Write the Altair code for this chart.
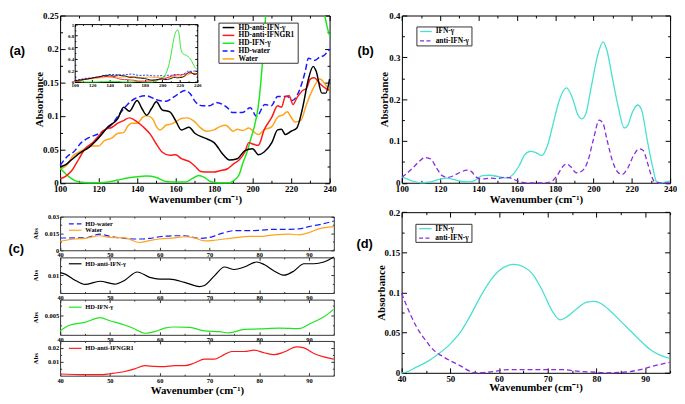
import json
import altair as alt
import pandas as pd

# ====================== DATA ======================
# (a) main panel + inset, wavenumber 100-240 cm-1
a_anti_ifng_x = [100, 103, 105, 110, 115, 120, 125, 130, 133, 136, 140, 142.5, 145, 147.5, 150, 153, 157, 160, 163, 167,
                 170, 175, 180, 185, 188, 192, 196, 200, 203, 206, 210, 213, 215, 217, 220, 223, 226, 229, 231.5, 233,
                 236, 238, 240]
a_anti_ifng_y = [.024, .027, .032, .044, .053, .067, .084, .096, .113, .107, .123, .111, .101, .111, .121, .109, .106, .093, .079, .083,
                 .074, .067, .060, .041, .034, .036, .048, .051, .042, .046, .060, .079, .080, .072, .077, .082, .112, .155, .174, .167,
                 .134, .134, .155]
a_gr1_x = [100, 103, 106, 110, 113, 117, 120, 123, 127, 130, 133, 136, 140, 143, 147, 150, 153, 157, 160, 163,
           167, 170, 173, 177, 180, 183, 187, 190, 193, 196, 198, 200, 203, 206, 210, 213, 215, 217, 219, 221,
           223, 226, 228, 230, 232, 235, 238, 240]
a_gr1_y = [.006, .010, .018, .037, .051, .060, .070, .079, .083, .089, .093, .097, .091, .084, .072, .058, .046, .041, .042, .036,
           .032, .025, .017, .016, .016, .018, .021, .028, .034, .046, .060, .058, .056, .079, .098, .115, .113, .129, .130, .117,
           .127, .138, .141, .155, .157, .148, .141, .138]
a_ifng_x = [100, 105, 110, 115, 120, 125, 130, 135, 140, 145, 150, 155, 160, 165, 169, 172, 175, 178, 182, 188,
            190, 193, 195, 197, 199, 201, 203, 205, 206.8, 208, 210, 212, 214, 216, 217.5, 219, 221, 223, 225.5, 228,
            230, 232, 234, 236, 237.5, 239, 240]
a_ifng_y = [.022, .008, .001, 0, 0, .001, .004, .007, .009, .010, .008, .002, .001, .001, .007, .011, .008, .002, 0, 0,
            .003, .012, .030, .045, .065, .085, .115, .175, .250, .32, .47, .65, .80, .88, .90, .85, .60, .50, .47, .46,
            .43, .40, .35, .29, .25, .23, .22]
a_water_hd_x = [100, 104, 107, 111, 114.6, 120.5, 127, 132, 135, 139, 145, 150, 155, 160, 165, 167.6, 170, 174, 177.7, 181,
                184.5, 187, 189.5, 194.6, 198.8, 202.1, 206.4, 209.7, 213, 218.1, 220.6, 224, 227.4, 229, 232.4, 234.9, 237, 240]
a_water_hd_y = [.026, .040, .046, .060, .067, .074, .088, .107, .117, .126, .130, .124, .122, .130, .138, .133, .122, .115, .115, .120,
                .117, .112, .105, .105, .112, .099, .117, .115, .129, .129, .123, .136, .167, .186, .183, .188, .190, .200]
a_water_x = [100, 103, 107, 110, 113, 117, 120, 123, 127, 130, 133, 135, 137, 140, 143, 145, 148, 150, 152, 155,
             158, 160, 163, 166, 170, 173, 176, 180, 183, 186, 190, 192, 195, 198, 200, 203, 206, 210, 213, 216,
             218, 220, 222, 225, 228, 231, 235, 238, 240]
a_water_y = [.020, .025, .041, .046, .051, .055, .055, .063, .067, .074, .075, .084, .089, .089, .098, .100, .096, .084, .079, .086,
             .088, .091, .096, .097, .091, .082, .077, .079, .084, .086, .077, .080, .078, .082, .078, .072, .079, .084, .098, .102,
             .106, .098, .091, .093, .117, .138, .155, .146, .138]

# (b) 100-240 cm-1
b_ifng_x = [100, 105, 110, 115, 120, 123, 127, 130, 135, 138, 142, 146, 150, 155, 158, 161, 164, 167, 170, 173,
            176, 179, 182, 186, 189, 192, 194, 196, 199, 202, 205, 207, 210, 213, 216, 218, 220, 223, 225, 228,
            231, 233, 235, 238, 240]
b_ifng_y = [.014, .005, 0, .002, .009, .011, .008, .004, .002, .005, .017, .018, .015, .011, .020, .039, .066, .075, .072, .065,
            .089, .142, .195, .227, .203, .161, .153, .165, .233, .301, .337, .317, .248, .180, .131, .138, .165, .186, .176, .104,
            .036, .002, 0, .002, .004]
b_anti_x = [100, 103, 106, 109, 112, 115, 118, 121, 124, 127, 130, 134, 136, 139, 142, 146, 150, 154, 157, 160,
            165, 170, 175, 178, 181, 184, 186, 188, 191, 194, 197, 200, 203, 205, 207, 210, 213, 215, 218, 221,
            224, 226, 228, 230, 232, 235, 240]
b_anti_y = [.013, .024, .037, .051, .060, .057, .036, .017, .013, .017, .024, .030, .028, .013, .009, .011, .010, .013, .011, .005,
            0, 0, 0, .003, .017, .039, .045, .039, .024, .028, .051, .104, .150, .142, .104, .051, .024, .020, .036, .066,
            .081, .077, .051, .020, .002, 0, 0]

# (c) 40-95 cm-1, four stacked panels
c_water_hd_x = [40, 45, 48, 50, 53, 56, 58, 60, 63, 65, 68, 70, 72, 75, 78, 80, 83, 86, 88, 90, 93, 95]
c_water_hd_y = [.0109, .011, .0143, .0123, .0106, .010, .0106, .012, .0129, .0129, .0106, .0114, .0143, .0174, .0174,
                .0177, .0186, .0186, .019, .021, .0237, .026]
c_water_x = [40, 43, 45, 48, 50, 53, 56, 58, 60, 63, 65, 67, 69, 71, 73, 75, 78, 80, 83, 86, 88, 90, 92, 95]
c_water_y = [.008, .010, .0106, .0129, .0114, .011, .0069, .0086, .010, .011, .012, .011, .0083, .0089, .010, .011,
             .0123, .0123, .0137, .0143, .0137, .0157, .019, .021]
c_anti_ifng_x = [40, 41, 43, 45, 48, 51, 53, 55.5, 58, 60, 62, 65, 68, 69, 71, 73, 75, 77, 79.5, 81, 83, 85, 87, 89, 91, 93, 95]
c_anti_ifng_y = [.0107, .0103, .0086, .0074, .0083, .0075, .0086, .0109, .0094, .0089, .0089, .008, .0068, .0071, .0098,
                 .0123, .0116, .0123, .0137, .013, .0112, .010, .0112, .0132, .0132, .0137, .0151]
c_ifng_x = [40, 42, 45, 48, 50, 53, 55, 57, 59, 61, 63, 66, 69, 72, 74, 77, 80, 84, 88, 90, 93, 95]
c_ifng_y = [.001, .0025, .0032, .0044, .0036, .0025, .0015, .0004, .0008, .0017, .002, .0019, .001, .0008, .0005, .0014,
            .0015, .0017, .0016, .0027, .0046, .0065]
c_gr1_x = [40, 45, 48, 50, 53, 55, 57, 59, 61, 63, 65, 67, 69, 71, 72.5, 74.5, 77, 79, 81, 83, 85, 87.5, 89, 91, 93, 95]
c_gr1_y = [.0012, .0007, .0007, .0014, .003, .0049, .0072, .0067, .0065, .0072, .0072, .0091, .0119, .0119, .0142, .0174,
           .0174, .0184, .0165, .0151, .017, .0207, .020, .016, .0135, .0119]

# (d) 40-95 cm-1
d_ifng_x = [40, 41, 43, 45, 47, 50, 52, 54, 56, 58, 60, 62, 63, 65, 67, 69, 71, 72.5, 74, 76, 78, 79.5, 81, 83, 85, 87, 89, 91, 93, 95]
d_ifng_y = [0, .001, .007, .013, .021, .036, .050, .070, .093, .113, .127, .134, .135, .132, .122, .101, .076, .066, .070, .080,
            .088, .089, .086, .076, .064, .052, .040, .029, .022, .018]
d_anti_x = [40, 41, 42, 43, 44, 45, 46, 47, 48, 50, 52, 54, 55, 58, 62, 66, 70, 73, 76, 79, 82, 86, 89, 92, 95]
d_anti_y = [.099, .084, .070, .058, .048, .040, .032, .026, .022, .015, .009, .002, 0, .001, .004, .004, .004, .004, .002, .001,
            0, .001, .004, .009, .013]

# labels
names_a = ["HD-anti-IFN-\u03b3", "HD-anti-IFNGR1", "HD-IFN-\u03b3", "HD-water", "Water"]
names_b = ["IFN-\u03b3", "anti-IFN-\u03b3"]
x_title = "Wavenumber (cm\u207b\u00b9)"
y_title = "Absorbance"

# ====================== STYLE / LAYOUT ======================
W, H = 668, 372
SERIF = "Liberation Serif"
SANS = "Liberation Sans"
FRAME = "#000000"
BLACK, RED, GREEN, BLUE, ORANGE = "#000000", "#ff1a1a", "#1ee61e", "#1a1aff", "#ffa31a"
CYAN, PURPLE = "#48e0d0", "#8a2be2"

BOX_A = (49.8, 322.9, 5.0, 174.5)
BOX_IN = (64.6, 188.8, 13.7, 72.4)
BOX_B = (396.2, 668.0, 5.0, 174.5)
BOX_C = [(49.8, 327.2, 208.7, 242.9), (49.8, 327.2, 250.1, 286.2),
         (49.8, 327.2, 292.9, 328.6), (49.8, 327.2, 334.8, 370.0)]
BOX_D = (395.9, 667.5, 204.3, 367.1)

ONE = pd.DataFrame({"k": [0]})


def df(xs, ys):
    return pd.DataFrame({"x": xs, "y": ys})


def rng(a, b, step):
    n = int(round((b - a) / step))
    return [round(a + i * step, 6) for i in range(n + 1)]


def scales(box, xdom, ydom):
    L, R, T, B = box
    return (alt.Scale(domain=xdom, range=[L, R], nice=False, zero=False),
            alt.Scale(domain=ydom, range=[B, T], nice=False, zero=False))


def lab_axis(orient, offset, values, fs, title, tx, ty, tfs, pad, color):
    kw = dict(orient=orient, offset=offset, values=values, format=".4~f", ticks=False, tickSize=0,
              domain=True, domainColor=color, domainWidth=1, grid=False,
              labelFont=SERIF, labelFontWeight="bold", labelFontSize=fs, labelColor="black",
              labelPadding=pad, labelFlush=False, labelOverlap=False, labelBound=False)
    if title is None:
        kw["title"] = None
    else:
        kw.update(title=title, titleFont=SERIF, titleFontWeight="bold", titleFontSize=tfs,
                  titleColor="black", titleX=tx, titleY=ty, titleAlign="center",
                  titleBaseline="middle", titleAngle=270 if orient == "left" else 0)
    return alt.Axis(**kw)


def tick_axis(orient, offset, values, majors, big, small, domain, color):
    test = "indexof(%s, datum.value) >= 0" % json.dumps(majors)
    return alt.Axis(orient=orient, offset=offset, values=values, labels=False, title=None, grid=False,
                    domain=domain, domainColor=color, domainWidth=1, ticks=True, tickColor=color,
                    tickWidth=1, tickSize={"condition": {"test": test, "value": big}, "value": small})


def panel_axes(data, box, xdom, ydom, xlab, ylab, xall, yall, lfs, big, small,
               xtitle=None, ytitle=None, xty=17, ytx=-21, xtfs=11, ytfs=11, pad=2, color=FRAME):
    L, R, T, B = box
    xs, ys = scales(box, xdom, ydom)
    base = alt.Chart(data).mark_point(opacity=0)
    lab = base.encode(
        x=alt.X("x:Q", scale=xs, axis=lab_axis("bottom", B - H, xlab, lfs, xtitle, (L + R) / 2, xty, xtfs, pad, color)),
        y=alt.Y("y:Q", scale=ys, axis=lab_axis("left", -L, ylab, lfs, ytitle, ytx, (T + B) / 2, ytfs, pad, color)))
    fr1 = base.encode(
        x=alt.X("x:Q", scale=xs, axis=tick_axis("bottom", T - H, xall, xlab, big, small, True, color)),
        y=alt.Y("y:Q", scale=ys, axis=tick_axis("left", -R, yall, ylab, big, small, True, color)))
    fr2 = base.encode(
        x=alt.X("x:Q", scale=xs, axis=tick_axis("top", -B, xall, xlab, big, small, False, color)),
        y=alt.Y("y:Q", scale=ys, axis=tick_axis("right", L - W, yall, ylab, big, small, False, color)))
    return [lab, fr1, fr2], xs, ys


def line(data, xs, ys, color, width, dash=None, detail=None):
    kw = dict(color=color, strokeWidth=width, interpolate="monotone")
    if dash:
        kw["strokeDash"] = dash
    enc = dict(x=alt.X("x:Q", scale=xs, axis=None), y=alt.Y("y:Q", scale=ys, axis=None))
    if detail:
        enc["detail"] = detail
    return alt.Chart(data).mark_line(**kw).encode(**enc)


def seg(x1, x2, y, color, width, dash=None):
    kw = dict(color=color, strokeWidth=width)
    if dash:
        kw["strokeDash"] = dash
    return alt.Chart(ONE).mark_rule(**kw).encode(x=alt.value(x1), x2=alt.value(x2), y=alt.value(y), y2=alt.value(y))


def text(s, x, y, size, font=SERIF, align="left"):
    return alt.Chart(ONE).mark_text(text=s, font=font, fontSize=size, fontWeight="bold", align=align,
                                    baseline="middle", color="black").encode(x=alt.value(x), y=alt.value(y))


def box(x1, x2, y1, y2):
    return alt.Chart(ONE).mark_rect(fill="white", stroke="#333333", strokeWidth=1).encode(
        x=alt.value(x1), x2=alt.value(x2), y=alt.value(y1), y2=alt.value(y2))


layers = []

# ---------------- panel (a) ----------------
ax, xsA, ysA = panel_axes(df(a_water_x, a_water_y), BOX_A, [100, 240], [0, 0.25],
                          rng(100, 240, 20), rng(0, 0.25, 0.05), rng(100, 240, 10), rng(0, 0.25, 0.025),
                          9, 5, 2.5, xtitle=x_title, ytitle=y_title, xty=17.0, ytx=-20.7, pad=2)
layers += ax
g = df(a_ifng_x, a_ifng_y)
g = g[g["y"] <= 0.25 + 1e-9].copy()
g["seg"] = (g.index.to_series().diff() != 1).cumsum()
layers += [
    line(df(a_water_x, a_water_y), xsA, ysA, ORANGE, 1.5),
    line(df(a_water_hd_x, a_water_hd_y), xsA, ysA, BLUE, 1.5, [6, 3]),
    line(g, xsA, ysA, GREEN, 1.5, detail="seg:N"),
    line(df(a_gr1_x, a_gr1_y), xsA, ysA, RED, 1.5),
    line(df(a_anti_ifng_x, a_anti_ifng_y), xsA, ysA, BLACK, 1.5),
]
# inset
ax, xsI, ysI = panel_axes(df(a_water_x, a_water_y), BOX_IN, [100, 240], [0, 1],
                          rng(100, 240, 20), rng(0, 1, 0.2), rng(100, 240, 10), rng(0, 1, 0.1),
                          5, 2.5, 1.2, pad=1)
layers += ax
layers += [
    line(df(a_water_x, a_water_y), xsI, ysI, ORANGE, 0.9),
    line(df(a_water_hd_x, a_water_hd_y), xsI, ysI, BLUE, 0.9, [2, 1.5]),
    line(df(a_ifng_x, a_ifng_y), xsI, ysI, GREEN, 0.9),
    line(df(a_gr1_x, a_gr1_y), xsI, ysI, RED, 0.9),
    line(df(a_anti_ifng_x, a_anti_ifng_y), xsI, ysI, BLACK, 0.9),
]
# legend (a)
layers.append(box(210.8, 291.1, 12.7, 53.4))
leg_a = [(BLACK, None), (RED, None), (GREEN, None), (BLUE, [5, 3]), (ORANGE, None)]
for i, (nm, (c, d)) in enumerate(zip(names_a, leg_a)):
    yy = 17.2 + i * 7.95
    layers.append(seg(214.5, 226.3, yy, c, 1.5, d))
    layers.append(text(nm, 230.5, yy, 7.5))
layers.append(text("(a)", 6.4, 40.6, 13, font=SANS, align="center"))

# ---------------- panel (b) ----------------
ax, xsB, ysB = panel_axes(df(b_ifng_x, b_ifng_y), BOX_B, [100, 240], [0, 0.4],
                          rng(100, 240, 20), rng(0, 0.4, 0.1), rng(100, 240, 10), rng(0, 0.4, 0.05),
                          9, 5, 2.5, xtitle=x_title, ytitle=y_title, xty=17.0, ytx=-17.7, pad=2)
layers += ax
layers += [
    line(df(b_ifng_x, b_ifng_y), xsB, ysB, CYAN, 1.3),
    line(df(b_anti_x, b_anti_y), xsB, ysB, PURPLE, 1.3, [5, 3]),
]
layers.append(box(411.4, 467.2, 16.6, 35.8))
layers.append(seg(414.6, 426.4, 21.2, CYAN, 1.3))
layers.append(text(names_b[0], 430.4, 21.2, 7.5))
layers.append(seg(414.6, 426.4, 30.6, PURPLE, 1.3, [4, 2.5]))
layers.append(text(names_b[1], 430.4, 30.6, 7.5))
layers.append(text("(b)", 359.4, 40.6, 13, font=SANS, align="center"))

# ---------------- panel (c) ----------------
c_specs = [
    ([0, 0.03], [0, 0.015, 0.03], rng(0, 0.03, 0.0075),
     [(c_water_hd_x, c_water_hd_y, BLUE, [6, 3]), (c_water_x, c_water_y, ORANGE, None)],
     [("HD-water", BLUE, [5, 3], 216.2), ("Water", ORANGE, None, 222.6)]),
    ([0.005, 0.015], [0.01], [0.0075, 0.01, 0.0125],
     [(c_anti_ifng_x, c_anti_ifng_y, BLACK, None)],
     [(names_a[0], BLACK, None, 256.6)]),
    ([0, 0.009], [0.005], [0.0025, 0.005, 0.0075],
     [(c_ifng_x, c_ifng_y, GREEN, None)],
     [(names_a[2], GREEN, None, 300.6)]),
    ([0, 0.025], [0.01, 0.02], [0.005, 0.01, 0.015, 0.02],
     [(c_gr1_x, c_gr1_y, RED, None)],
     [(names_a[1], RED, None, 342.3)]),
]
for i, (ydom, ylab, yall, series, legs) in enumerate(c_specs):
    last = i == 3
    ax, xsC, ysC = panel_axes(df(series[0][0], series[0][1]), BOX_C[i], [40, 95], ydom,
                              rng(40, 90, 10), ylab, rng(40, 95, 5), yall, 6.5, 3, 1.5,
                              xtitle=x_title if last else None, ytitle="Abs", xty=15, ytx=-24.6,
                              xtfs=11, ytfs=7, pad=1.5, color="#333333")
    layers += ax
    for xs_, ys_, c, d in series:
        layers.append(line(df(xs_, ys_), xsC, ysC, c, 1.2, d))
    for nm, c, d, yy in legs:
        layers.append(seg(58.7, 71.5, yy, c, 1.2, d))
        layers.append(text(nm, 75.4, yy, 6.5))
layers.append(text("(c)", 5.4, 241.9, 13, font=SANS, align="center"))

# ---------------- panel (d) ----------------
ax, xsD, ysD = panel_axes(df(d_ifng_x, d_ifng_y), BOX_D, [40, 95], [0, 0.2],
                          rng(40, 90, 10), rng(0, 0.2, 0.05), rng(40, 95, 5), rng(0, 0.2, 0.025),
                          9, 5, 2.5, xtitle=x_title, ytitle=y_title, xty=15.4, ytx=-20.7, pad=2)
layers += ax
layers += [
    line(df(d_ifng_x, d_ifng_y), xsD, ysD, CYAN, 1.3),
    line(df(d_anti_x, d_anti_y), xsD, ysD, PURPLE, 1.3, [5, 3]),
]
layers.append(box(410.4, 467.2, 216.6, 234.9))
layers.append(seg(413.6, 426.2, 221.0, CYAN, 1.3))
layers.append(text(names_b[0], 430.1, 221.0, 7.5))
layers.append(seg(413.6, 426.2, 230.7, PURPLE, 1.3, [4, 2.5]))
layers.append(text(names_b[1], 430.1, 230.7, 7.5))
layers.append(text("(d)", 358.4, 237.1, 13, font=SANS, align="center"))

chart = alt.layer(*layers).resolve_scale(x="independent", y="independent").properties(
    width=W, height=H, padding=0, background="white"
).configure_view(stroke=None)

chart.save("out.html", embed_options={"renderer": "svg", "actions": False})
